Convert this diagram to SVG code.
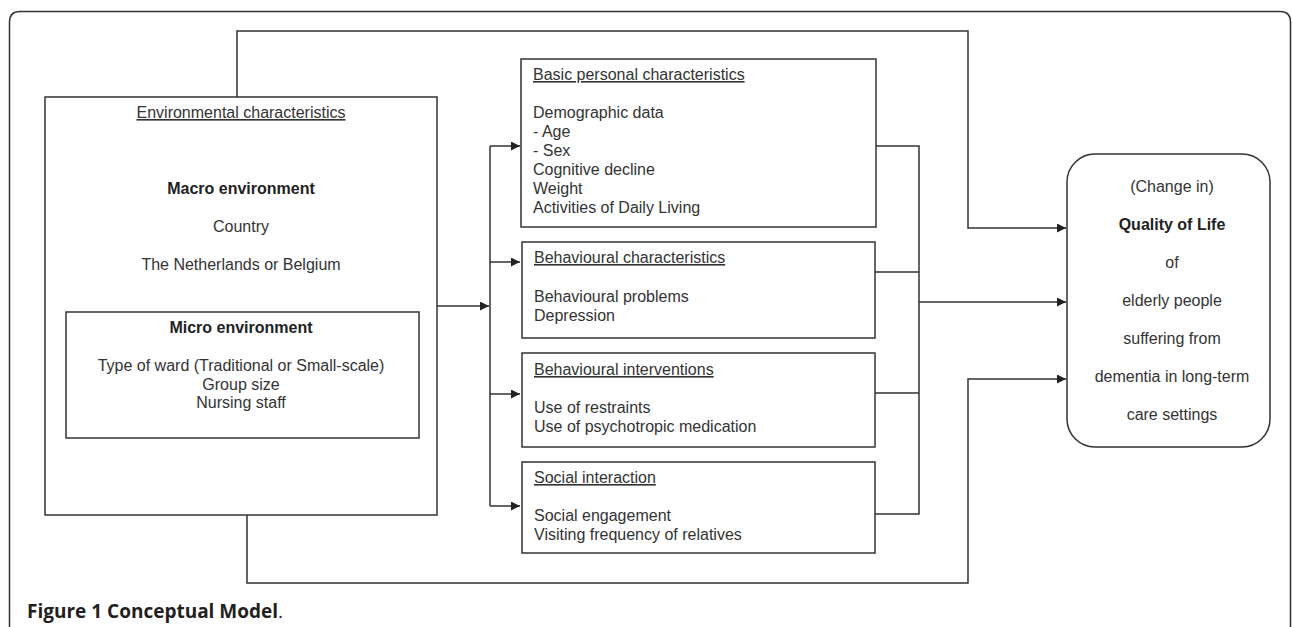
<svg xmlns="http://www.w3.org/2000/svg" width="1292" height="627" viewBox="0 0 1292 627">
<style>
.box{fill:#fff;stroke:#333;stroke-width:1.5}
.ln{fill:none;stroke:#333;stroke-width:1.5}
.t{font-family:"Liberation Sans",Arial,sans-serif;font-size:16px;fill:#333}
.c{text-anchor:middle}
.b{font-weight:bold;fill:#222}
.u{text-decoration:underline}
.cap{font-family:"Open Sans","Noto Sans",sans-serif;font-size:19px;fill:#231f20}
</style>
<defs>
<marker id="ah" viewBox="0 0 10 10" refX="10" refY="5" markerWidth="10" markerHeight="9" markerUnits="userSpaceOnUse" orient="auto">
<path d="M0,0 L10,5 L0,10 z" fill="#222"/>
</marker>
</defs>
<rect width="1292" height="627" fill="#fff"/>
<path class="ln" d="M9.5,627 V22 Q9.5,11.5 20,11.5 H1280 Q1290.5,11.5 1290.5,22 V627" stroke="#222"/>

<g id="connectors">
<path class="ln" d="M237,97 V31 H968 V228 H1066" marker-end="url(#ah)"/>
<path class="ln" d="M247,515 V583 H968 V379 H1066" marker-end="url(#ah)"/>
<path class="ln" d="M437,306 H489" marker-end="url(#ah)"/>
<path class="ln" d="M490,146 V506"/>
<path class="ln" d="M490,146 H520" marker-end="url(#ah)"/>
<path class="ln" d="M490,262 H520" marker-end="url(#ah)"/>
<path class="ln" d="M490,394 H520" marker-end="url(#ah)"/>
<path class="ln" d="M490,506 H520" marker-end="url(#ah)"/>
<path class="ln" d="M876,146 H919 V514 H875 M875,272 H919 M875,393 H919"/>
<path class="ln" d="M919,302 H1066" marker-end="url(#ah)"/>
</g>

<g id="environment">
<rect class="box" x="45" y="97" width="392" height="418"/>
<text class="t c u" x="241" y="118">Environmental characteristics</text>
<text class="t c b" x="241" y="194">Macro environment</text>
<text class="t c" x="241" y="232">Country</text>
<text class="t c" x="241" y="270">The Netherlands or Belgium</text>
</g>

<g id="micro">
<rect class="box" x="66" y="312" width="353" height="126"/>
<text class="t c b" x="241" y="333">Micro environment</text>
<text class="t c" x="241" y="371">Type of ward (Traditional or Small-scale)</text>
<text class="t c" x="241" y="389.5">Group size</text>
<text class="t c" x="241" y="408">Nursing staff</text>
</g>

<g id="basic">
<rect class="box" x="521" y="59" width="355" height="168"/>
<text class="t u" x="533" y="80">Basic personal characteristics</text>
<text class="t" x="533" y="118">Demographic data</text>
<text class="t" x="533" y="137">- Age</text>
<text class="t" x="533" y="156">- Sex</text>
<text class="t" x="533" y="175">Cognitive decline</text>
<text class="t" x="533" y="194">Weight</text>
<text class="t" x="533" y="213">Activities of Daily Living</text>
</g>

<g id="behavioural-characteristics">
<rect class="box" x="522" y="242" width="353" height="96"/>
<text class="t u" x="534" y="263">Behavioural characteristics</text>
<text class="t" x="534" y="302">Behavioural problems</text>
<text class="t" x="534" y="321">Depression</text>
</g>

<g id="behavioural-interventions">
<rect class="box" x="522" y="353" width="353" height="94"/>
<text class="t u" x="534" y="375">Behavioural interventions</text>
<text class="t" x="534" y="413">Use of restraints</text>
<text class="t" x="534" y="432">Use of psychotropic medication</text>
</g>

<g id="social">
<rect class="box" x="522" y="462" width="353" height="91"/>
<text class="t u" x="534" y="483">Social interaction</text>
<text class="t" x="534" y="521">Social engagement</text>
<text class="t" x="534" y="540">Visiting frequency of relatives</text>
</g>

<g id="quality-of-life">
<rect class="box" x="1067" y="154" width="203" height="293" rx="28" ry="28"/>
<text class="t c" x="1172" y="192">(Change in)</text>
<text class="t c b" x="1172" y="230">Quality of Life</text>
<text class="t c" x="1172" y="268">of</text>
<text class="t c" x="1172" y="306">elderly people</text>
<text class="t c" x="1172" y="344">suffering from</text>
<text class="t c" x="1172" y="382">dementia in long-term</text>
<text class="t c" x="1172" y="420">care settings</text>
</g>

<g id="caption">
<text class="cap" x="27" y="618"><tspan font-weight="bold">Figure 1 Conceptual Model</tspan>.</text>
</g>
</svg>
